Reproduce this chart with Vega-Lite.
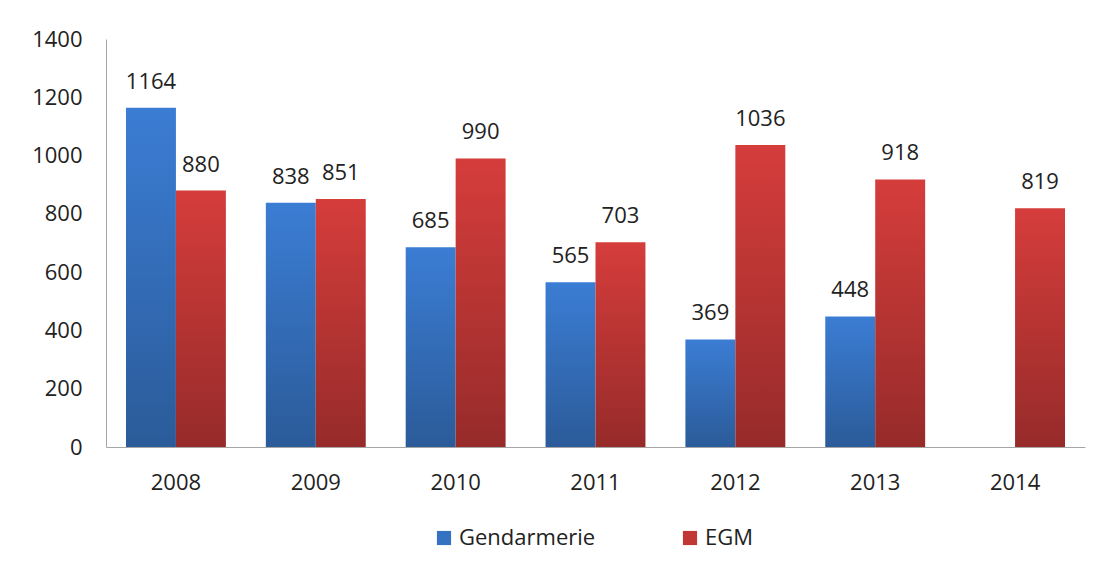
{
  "$schema": "https://vega.github.io/schema/vega-lite/v6.json",
  "width": 979,
  "height": 408,
  "autosize": {"type": "none"},
  "padding": {"left": 106, "top": 39, "right": 14, "bottom": 127},
  "background": "white",
  "config": {
    "view": {"stroke": null},
    "font": "Open Sans",
    "axis": {"labelFont": "Open Sans", "labelFontSize": 22, "labelColor": "#222222", "domainColor": "#a6a6a6", "ticks": false, "grid": false, "title": null}
  },
  "data": {
    "values": [
      {"year": "2008", "series": "Gendarmerie", "value": 1164},
      {"year": "2008", "series": "EGM", "value": 880},
      {"year": "2009", "series": "Gendarmerie", "value": 838},
      {"year": "2009", "series": "EGM", "value": 851},
      {"year": "2010", "series": "Gendarmerie", "value": 685},
      {"year": "2010", "series": "EGM", "value": 990},
      {"year": "2011", "series": "Gendarmerie", "value": 565},
      {"year": "2011", "series": "EGM", "value": 703},
      {"year": "2012", "series": "Gendarmerie", "value": 369},
      {"year": "2012", "series": "EGM", "value": 1036},
      {"year": "2013", "series": "Gendarmerie", "value": 448},
      {"year": "2013", "series": "EGM", "value": 918},
      {"year": "2014", "series": "EGM", "value": 819}
    ]
  },
  "encoding": {
    "x": {"field": "year", "type": "nominal", "scale": {"paddingInner": 0.2857, "paddingOuter": 0.1429}, "axis": {"labelAngle": 0, "labelPadding": 25, "domain": true}},
    "xOffset": {"field": "series", "type": "nominal", "scale": {"domain": ["Gendarmerie", "EGM"], "paddingInner": 0, "paddingOuter": 0}},
    "y": {"field": "value", "type": "quantitative", "scale": {"domain": [0, 1400], "nice": false}, "axis": {"values": [0, 200, 400, 600, 800, 1000, 1200, 1400], "format": "d", "labelPadding": 24, "domain": true}}
  },
  "layer": [
    {
      "mark": {"type": "bar"},
      "encoding": {
        "fill": {
          "condition": {"test": "datum.series === 'Gendarmerie'", "value": {"gradient": "linear", "x1": 0, "y1": 0, "x2": 0, "y2": 1, "stops": [{"offset": 0, "color": "#3b7dd4"}, {"offset": 1, "color": "#2b5b99"}]}},
          "value": {"gradient": "linear", "x1": 0, "y1": 0, "x2": 0, "y2": 1, "stops": [{"offset": 0, "color": "#d53d3b"}, {"offset": 1, "color": "#962b2a"}]}
        }
      }
    },
    {
      "mark": {"type": "bar", "opacity": 0},
      "encoding": {
        "color": {"field": "series", "type": "nominal", "scale": {"domain": ["Gendarmerie", "EGM"], "range": ["#3572c2", "#c23634"]},
          "legend": {"orient": "none", "legendX": 327, "legendY": 488, "direction": "horizontal", "title": null, "labelFont": "Open Sans", "labelFontSize": 22, "labelColor": "#222222", "symbolType": "square", "symbolSize": 200, "symbolOpacity": 1, "columnPadding": 83, "labelOffset": 4}}
      }
    },
    {
      "mark": {"type": "text", "baseline": "alphabetic", "dy": -19, "fontSize": 22, "font": "Open Sans", "color": "#222222"},
      "encoding": {"text": {"field": "value", "type": "quantitative"}}
    }
  ]
}
